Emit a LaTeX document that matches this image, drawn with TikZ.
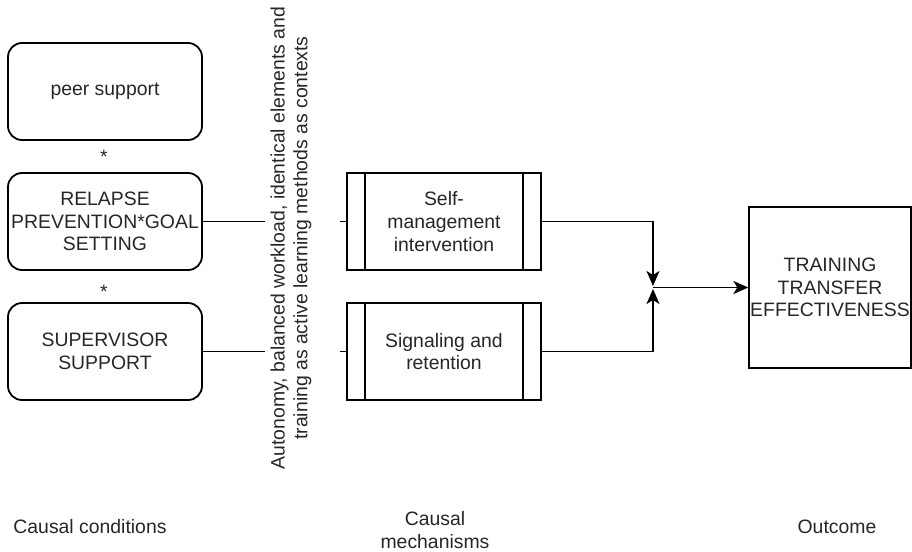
\documentclass[tikz,border=0pt]{standalone}
\usepackage{fontspec}
\setmainfont{Liberation Sans}
\usetikzlibrary{arrows.meta}

\begin{document}
\begin{tikzpicture}[x=0.5pt, y=-0.5pt, line width=0.9pt,
    every node/.style={font=\fontsize{9.7}{11.3}\selectfont, align=center, text=black!85},
    condbox/.style={draw, rounded corners=7pt, minimum width=97pt, minimum height=48.5pt, inner sep=1pt},
    procbox/.style={draw, minimum width=97pt, minimum height=48.5pt, inner sep=1pt},
    outbox/.style={draw, minimum width=80pt, minimum height=80.5pt, inner sep=0.5pt},
    arr/.style={-{Stealth[length=7.5pt,width=6.5pt,inset=2pt]}}]
    \useasboundingbox (0,0) rectangle (912,552);
    % causal conditions
    \node[condbox] (peer) at (105,91.5) {peer support};
    \node[condbox] (relapse) at (105,221.5) {RELAPSE\\PREVENTION*GOAL\\SETTING};
    \node[condbox] (superv) at (105,351.5) {SUPERVISOR\\SUPPORT};
    \node (star1) at (104,157) {*};
    \node (star2) at (104,292) {*};
    % contexts
    \node[rotate=90] (context) at (291,238) {Autonomy, balanced workload, identical elements and\\training as active learning methods as contexts};
    % mechanisms
    \node[procbox] (selfm) at (444,221.5) {Self-\\management\\intervention};
    \node[procbox] (signal) at (444,351.5) {Signaling and\\retention};
    \foreach \n in {selfm,signal}{
        \draw ([xshift=9.5pt]\n.north west) -- ([xshift=9.5pt]\n.south west);
        \draw ([xshift=-9.5pt]\n.north east) -- ([xshift=-9.5pt]\n.south east);
    }
    % outcome
    \node[outbox] (outcome) at (830,287.5) {TRAINING\\TRANSFER\\EFFECTIVENESS};
    % connectors
    \coordinate (gapL1) at (265,221.5);
    \coordinate (gapR1) at (340,221.5);
    \coordinate (gapL2) at (265,351.5);
    \coordinate (gapR2) at (340,351.5);
    \draw (relapse.east) -- (gapL1);
    \draw (gapR1) -- (selfm.west);
    \draw (superv.east) -- (gapL2);
    \draw (gapR2) -- (signal.west);
    \coordinate (join) at (653,287.5);
    \coordinate (joinT) at (653,286);
    \coordinate (joinB) at (653,289);
    \draw[arr] (selfm.east) -| (joinT);
    \draw[arr] (signal.east) -| (joinB);
    \draw[arr] (join) -- (outcome.west);
    % column labels
    \node (lcond) at (90,527) {Causal conditions};
    \node (lmech) at (435,530) {Causal\\mechanisms};
    \node (lout) at (837,527) {Outcome};
\end{tikzpicture}
\end{document}
